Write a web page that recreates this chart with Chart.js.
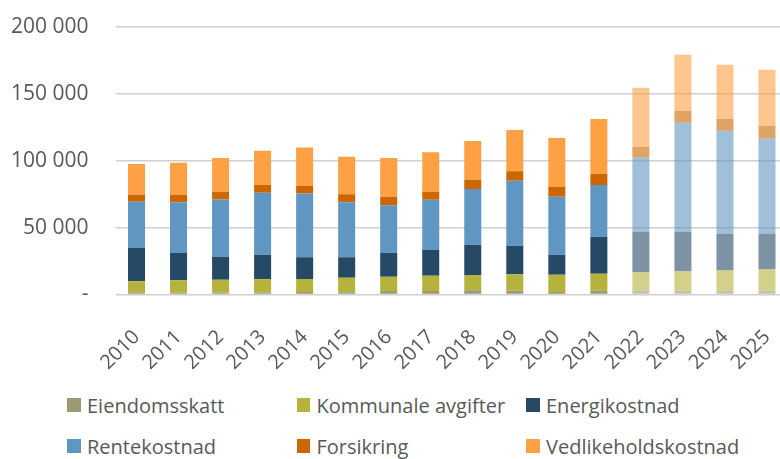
<!DOCTYPE html>
<html>
<head>
<meta charset="utf-8">
<script src="https://cdn.jsdelivr.net/npm/chart.js@4.4.1/dist/chart.umd.min.js"></script>
<style>
  html, body { margin: 0; padding: 0; background: #fff; overflow: hidden; width: 780px; height: 459px; }
  #wrap { position: relative; width: 780px; height: 459px; overflow: hidden; }
  #c { position: absolute; left: 0; top: 0; }
  #legend { position: absolute; left: 67px; top: 393px; width: 720px; display: grid;
            grid-template-columns: 229.5px 229.5px 229.5px; row-gap: 17px;
            font-family: "Open Sans", sans-serif; font-size: 20px; color: #595959; }
  .item { display: flex; align-items: center; height: 24px; white-space: nowrap; }
  .box { width: 13.5px; height: 13.5px; margin-right: 6.5px; flex: none; }
</style>
</head>
<body>
<div id="wrap">
  <canvas id="c" width="788" height="380"></canvas>
  <div id="legend"></div>
</div>
<script>
const years = ["2010","2011","2012","2013","2014","2015","2016","2017","2018","2019","2020","2021","2022","2023","2024","2025"];
const seriesNames = ["Eiendomsskatt","Kommunale avgifter","Energikostnad","Rentekostnad","Forsikring","Vedlikeholdskostnad"];
const eiendomsskatt      = [1400,1500,1500,1500,1900,1600,2600,2600,3100,2800,1900,2800,2800,2800,2800,2800];
const kommunaleAvgifter  = [8500,9100,9600,9900,9700,11000,10700,11400,11500,12300,12900,12700,13800,14500,15300,16000];
const energikostnad      = [25100,20400,17200,18300,16200,15200,17900,19300,22600,21400,14900,27700,30300,29600,27300,26600];
const rentekostnad       = [34400,37900,42800,46400,47800,41100,35500,37600,41700,48600,43400,38600,55600,81500,77000,71300];
const forsikring         = [5000,5500,5700,6000,5700,6000,6200,5900,6900,7000,7500,8300,8000,9000,9000,9200];
const vedlikehold        = [23100,24100,25200,25400,28700,28100,29100,29500,28900,30800,36400,41100,44100,41800,40400,42100];
const firstForecastYear = "2022";
const yTicks = [0, 50000, 100000, 150000, 200000];

const values = [eiendomsskatt, kommunaleAvgifter, energikostnad, rentekostnad, forsikring, vedlikehold];
const baseColors = ["#9c9a74","#b5b33b","#264966","#6096c2","#cc6600","#fea044"];
const forecastIdx = years.indexOf(firstForecastYear);

function hexA(hex, a) {
  const r = parseInt(hex.slice(1,3),16), g = parseInt(hex.slice(3,5),16), b = parseInt(hex.slice(5,7),16);
  return `rgba(${r},${g},${b},${a})`;
}

const datasets = seriesNames.map((name, i) => ({
  label: name,
  data: values[i],
  backgroundColor: years.map((y, j) => j >= forecastIdx ? hexA(baseColors[i], 0.6) : baseColors[i]),
  borderWidth: 0,
  stack: "s"
}));

function fmt(v) {
  if (v === 0) return "-";
  return String(v).replace(/\B(?=(\d{3})+(?!\d))/g, " ");
}

const chart = new Chart(document.getElementById("c"), {
  type: "bar",
  data: { labels: years, datasets },
  options: {
    responsive: false,
    animation: false,
    devicePixelRatio: 1,
    layout: { padding: { top: 27, left: 0, right: 0, bottom: 0 } },
    plugins: { legend: { display: false }, tooltip: { enabled: false } },
    datasets: { bar: { barPercentage: 1, categoryPercentage: 0.405 } },
    scales: {
      x: {
        stacked: true,
        grid: { display: false, drawTicks: false },
        border: { display: false },
        ticks: {
          autoSkip: false, maxRotation: 45, minRotation: 45, padding: 31,
          color: "#595959", font: { family: "Open Sans", size: 20 }
        },
        afterFit: (s) => { s.height = 85.5; s.paddingLeft = 0; s.paddingRight = 0; }
      },
      y: {
        stacked: true,
        min: 0, max: 200000,
        afterBuildTicks: (s) => { s.ticks = yTicks.map(v => ({ value: v })); },
        grid: { color: "#cfcfcf", lineWidth: 1.5, drawTicks: false },
        border: { display: false },
        ticks: {
          padding: 27, color: "#595959", font: { family: "Open Sans", size: 21 },
          callback: (v) => fmt(v)
        },
        afterFit: (s) => { s.width = 115.5; s.paddingTop = 0; s.paddingBottom = 0; }
      }
    }
  }
});

const legend = document.getElementById("legend");
seriesNames.forEach((name, i) => {
  const it = document.createElement("div");
  it.className = "item";
  const b = document.createElement("span");
  b.className = "box";
  b.style.background = baseColors[i];
  const t = document.createElement("span");
  t.textContent = name;
  it.appendChild(b); it.appendChild(t);
  legend.appendChild(it);
});
</script>
</body>
</html>
